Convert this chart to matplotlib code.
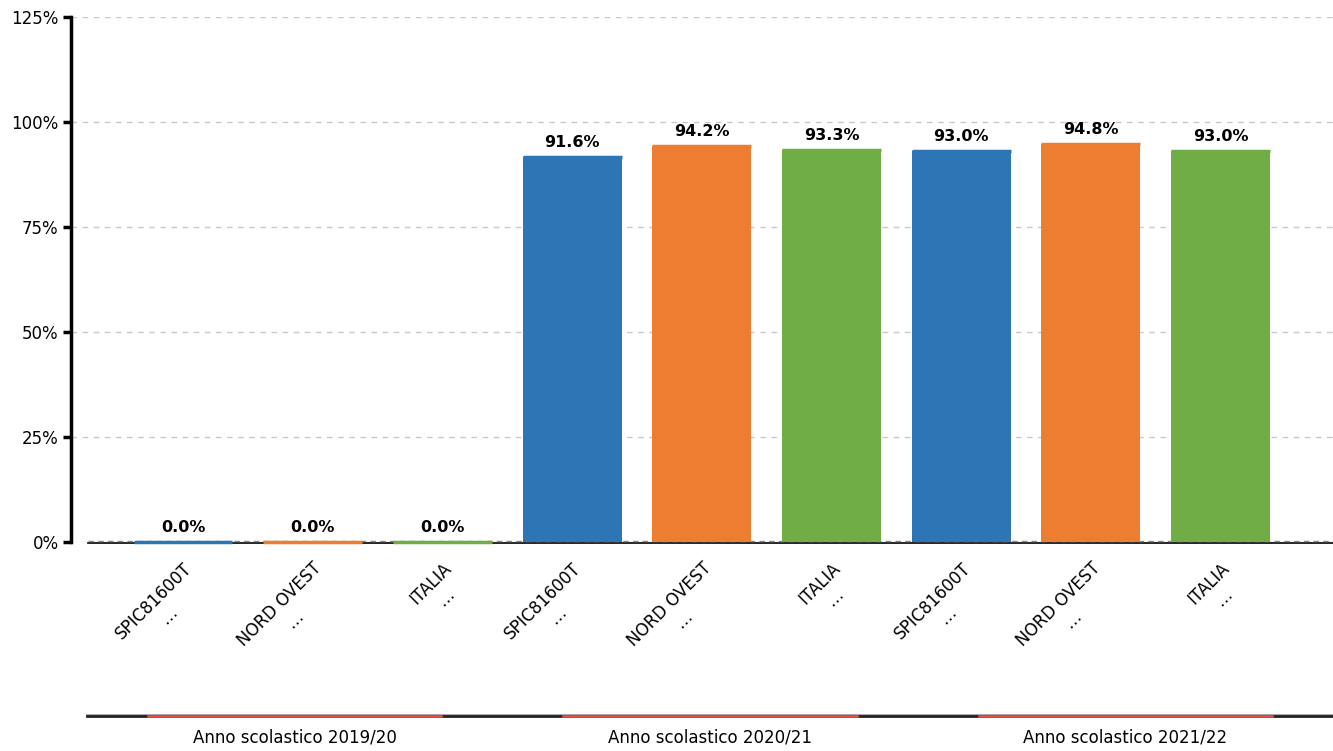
import matplotlib
matplotlib.use("Agg")
import matplotlib.pyplot as plt
from matplotlib.lines import Line2D
from matplotlib.ticker import FuncFormatter

# data
labels = ["SPIC81600T", "NORD OVEST", "ITALIA"] * 3
values = [0.0, 0.0, 0.0, 91.6, 94.2, 93.3, 93.0, 94.8, 93.0]
groups = ["Anno scolastico 2019/20", "Anno scolastico 2020/21", "Anno scolastico 2021/22"]
colors = ["#2e75b6", "#ed7d31", "#70ad47"] * 3
yticks = [0, 25, 50, 75, 100, 125]

W, H = 1333, 751
fig = plt.figure(figsize=(W / 100, H / 100), dpi=100)
ax = fig.add_axes([71 / W, 1 - 542 / H, 1 - 71 / W, (542 - 17) / H])

x = list(range(len(values)))
bw = 0.763
ax.bar(x, values, width=bw, color=colors, linewidth=0, zorder=3)
# top edge of each bar so the empty ones still show as a thin coloured line
top = ax.hlines(values, [xi - bw / 2 for xi in x], [xi + bw / 2 for xi in x],
                colors=colors, lw=2.5, zorder=4, clip_on=False)
top.set_capstyle("butt")

ax.set_xlim(-0.8635, 8.867)
ax.set_ylim(0, 125)
ax.set_yticks(yticks)
ax.yaxis.set_major_formatter(FuncFormatter(lambda v, p: f"{v:.0f}%"))
ax.tick_params(axis="y", labelsize=12, length=6, width=2.5, pad=3)
ax.grid(axis="y", color="#c8c8c8", linestyle=(0, (4, 4)), linewidth=1, zorder=0)
ax.set_axisbelow(True)

for s in ["top", "right", "bottom"]:
    ax.spines[s].set_visible(False)
ax.spines["left"].set_linewidth(2.5)

# baseline
ax.plot([0.0135, 1], [-0.002, -0.002], transform=ax.transAxes, color="black", lw=1.2,
        clip_on=False, zorder=2)
ax.plot([0.0135, 1], [0.001, 0.001], transform=ax.transAxes, color="#888888", lw=1,
        linestyle=(0, (4, 3)), clip_on=False, zorder=2)

ax.set_xticks(x)
ax.set_xticklabels([])
ax.tick_params(axis="x", length=0)

for xi, lab, v in zip(x, labels, values):
    ax.annotate(f"{v:.1f}%", (xi, v), xytext=(0, 5), textcoords="offset points",
                ha="center", va="bottom", fontsize=11.5, fontweight="bold", zorder=5)
    ax.annotate(lab + "\n…", (xi, 0), xycoords=("data", "axes fraction"),
                xytext=(0, -17), textcoords="offset pixels",
                ha="right", va="top", rotation=45, rotation_mode="anchor",
                multialignment="center", fontsize=12)

# group axis line at the bottom
x0 = 87 / W
third = (1 - x0) / 3
ly = 1 - 716 / H
fig.add_artist(Line2D([x0, 1], [ly + 0.0015, ly + 0.0015], color="#999999", lw=1.2))
fig.add_artist(Line2D([x0, 1], [ly, ly], color="#222222", lw=2))
for i, g in enumerate(groups):
    a = x0 + i * third
    fig.add_artist(Line2D([a + third * 0.147, a + third * 0.853], [ly, ly],
                          color="#f0504a", lw=1.8))
    fig.text(a + third / 2, 1 - 738 / H, g, ha="center", va="center", fontsize=12)

fig.savefig("out.png", dpi=100)
